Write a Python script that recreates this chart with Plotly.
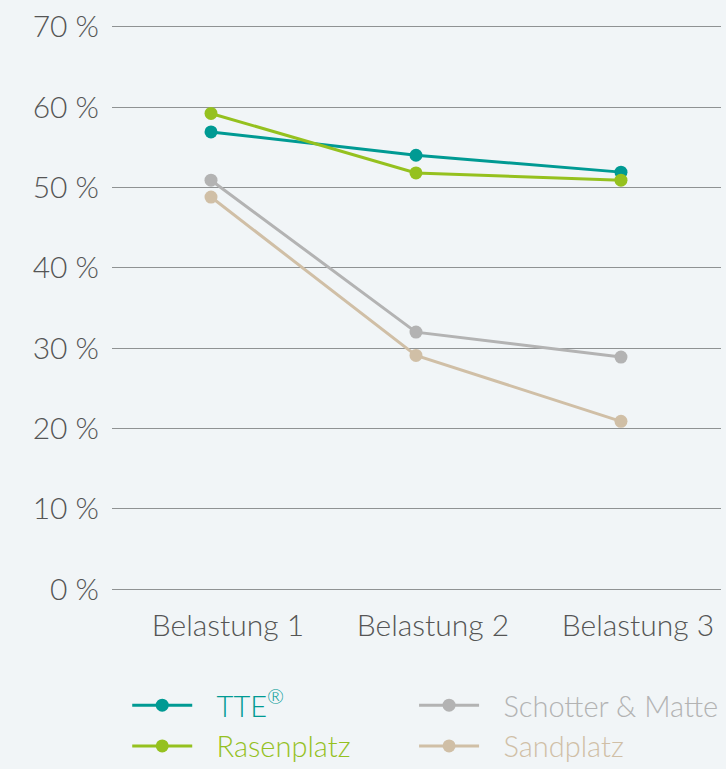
import plotly.graph_objects as go

categories = ["Belastung 1", "Belastung 2", "Belastung 3"]
tte = [56.9, 54.0, 51.9]
rasen = [59.2, 51.8, 50.9]
schotter = [50.9, 32.0, 28.9]
sand = [48.8, 29.1, 20.9]
series_names = ["TTE<sup>®</sup>", "Rasenplatz", "Schotter &amp; Matte", "Sandplatz"]
series_values = [tte, rasen, schotter, sand]
series_colors = ["#009a93", "#95c11f", "#b3b3b3", "#d0bfa6"]
series_legend = ["legend", "legend", "legend2", "legend2"]
y_ticks = [0, 10, 20, 30, 40, 50, 60, 70]
y_labels = ["0 %", "10 %", "20 %", "30 %", "40 %", "50 %", "60 %", "70 %"]

FONT = "Lato"
fig = go.Figure()
for name, vals, col, lg in zip(series_names, series_values, series_colors, series_legend):
    fig.add_trace(go.Scatter(
        x=categories, y=vals, mode="lines+markers",
        name='<span style="color:%s">\u00a0\u00a0\u2009%s</span>' % (col, name),
        line=dict(color=col, width=3),
        marker=dict(color=col, size=13),
        cliponaxis=False, legend=lg,
    ))

legend_common = dict(
    orientation="v", xanchor="left", y=-0.157, yanchor="top",
    font=dict(family=FONT, size=29, weight=300),
    itemwidth=60, tracegroupgap=0,
    bgcolor="rgba(0,0,0,0)",
)

fig.update_layout(
    width=726, height=769,
    margin=dict(l=112, r=5, t=25, b=178, autoexpand=False),
    paper_bgcolor="#f1f5f7", plot_bgcolor="#f1f5f7",
    font=dict(family=FONT, size=30, color="#555555", weight=300),
    showlegend=True,
    legend=dict(x=0.025, **legend_common),
    legend2=dict(x=0.496, **legend_common),
    xaxis=dict(
        range=[-0.483, 2.488],
        showgrid=False, zeroline=False, showline=False, automargin=False,
        ticks="", ticklabelstandoff=14, ticklabelshift=17,
        tickfont=dict(family=FONT, size=30, color="#555555", weight=300),
    ),
    yaxis=dict(
        range=[-0.2, 70.2], tickmode="array", tickvals=y_ticks, ticktext=y_labels,
        showgrid=True, gridcolor="#8f9293", gridwidth=1.2, automargin=False,
        zeroline=False, showline=False, ticks="",
        ticklabelstandoff=12,
        tickfont=dict(family=FONT, size=30, color="#555555", weight=300),
    ),
)

fig.write_html(
    "out.html",
    config={"displayModeBar": False},
    post_script="document.body.style.margin='0';document.body.style.background='#f1f5f7';",
)
